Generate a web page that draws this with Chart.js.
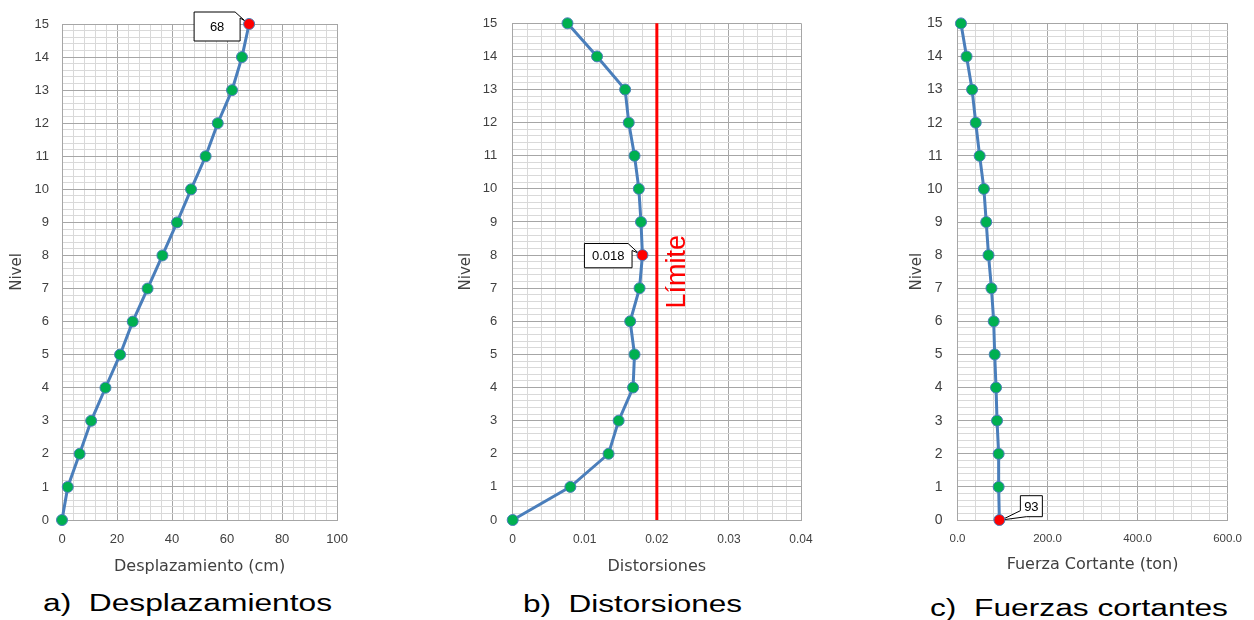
<!DOCTYPE html>
<html><head><meta charset="utf-8">
<script src="https://cdn.jsdelivr.net/npm/chart.js@4/dist/chart.umd.min.js"></script>
<style>
html,body{margin:0;padding:0;background:#fff;width:1254px;height:620px;overflow:hidden;position:relative}
canvas{position:absolute;top:0}
.cap{position:absolute;white-space:pre;font-family:"Liberation Sans",Arial,sans-serif;font-size:23px;line-height:23px;color:#000;transform-origin:0 50%}
</style></head><body>
<canvas id="ca" width="360" height="580" style="left:0px"></canvas>
<canvas id="cb" width="381" height="580" style="left:450px"></canvas>
<canvas id="cc" width="354" height="580" style="left:900px"></canvas>
<div class="cap" id="capa" style="left:43px;top:592px" data-w="289">a)  Desplazamientos</div>
<div class="cap" id="capb" style="left:523px;top:593px" data-w="219">b)  Distorsiones</div>
<div class="cap" id="capc" style="left:930px;top:597px" data-w="298">c)  Fuerzas cortantes</div>
<script>
// ---- data ----
const niveles = [0,1,2,3,4,5,6,7,8,9,10,11,12,13,14,15];
const desplazamientos = [0, 2.1, 6.4, 10.6, 15.8, 21.1, 25.7, 31.1, 36.5, 41.8, 46.9, 52.2, 56.6, 61.8, 65.4, 68];
const distorsiones = [0, 0.0080, 0.0133, 0.0147, 0.0167, 0.0169, 0.0163, 0.0176, 0.018, 0.0178, 0.0175, 0.0169, 0.0161, 0.0156, 0.0117, 0.0076];
const cortantes = [93, 91.4, 91.4, 87.8, 85.6, 82.6, 80.4, 75.4, 68.9, 63.8, 58.6, 49.2, 40.5, 32.4, 20.1, 7.7];
const limiteDistorsion = 0.02;
const nivelTicks = [0,1,2,3,4,5,6,7,8,9,10,11,12,13,14,15];
const xTicksA = [0, 20, 40, 60, 80, 100];
const xLabelsA = ['0', '20', '40', '60', '80', '100'];
const xTicksB = [0, 0.01, 0.02, 0.03, 0.04];
const xLabelsB = ['0', '0.01', '0.02', '0.03', '0.04'];
const xTicksC = [0, 200, 400, 600];
const xLabelsC = ['0.0', '200.0', '400.0', '600.0'];
const titulosX = ['Desplazamiento (cm)', 'Distorsiones', 'Fuerza Cortante (ton)'];
const tituloY = 'Nivel';
const etiquetaLimite = 'Límite';

// ---- styles ----
const MAJOR = '#a6a6a6', MINOR = '#d9d9d9';
const LINE = '#4a7ebb', GREEN = '#00b050', RED = '#ff0000';
const TXT = '#404040';

function isIn(v, arr){ return arr.findIndex(t => Math.abs(t - v) < 1e-9); }

function argmax(a){ let m=0; a.forEach((v,i)=>{ if(v>a[m]) m=i; }); return m; }

function makeChart(id, o){
  const pts = o.values.map((v,i)=>({x:v, y:niveles[i]}));
  const hi = argmax(o.values);
  const datasets = [{
    data: pts, showLine: true, borderColor: LINE, borderWidth: 3,
    pointRadius: 5.5, pointBorderWidth: 1, pointBorderColor: LINE,
    pointBackgroundColor: ctx => ctx.dataIndex === hi ? RED : GREEN,
    tension: 0, order: 1, clip: false
  }];
  if (o.limit !== undefined) {
    datasets.push({data:[{x:o.limit,y:niveles[0]},{x:o.limit,y:niveles[niveles.length-1]}],
      showLine:true, borderColor:RED, borderWidth:3, pointRadius:0, order:2, clip: false});
  }
  const calloutPlugin = {
    id: 'callout'+id,
    beforeDatasetsDraw(chart){
      const xs = chart.scales.x, ys = chart.scales.y, c = chart.ctx;
      const P = {x: xs.getPixelForValue(o.values[hi]), y: ys.getPixelForValue(niveles[hi])};
      const b = o.box(P);
      c.save();
      c.beginPath();
      b.path(c);
      c.closePath();
      c.fillStyle = '#fff'; c.fill();
      c.strokeStyle = '#000'; c.lineWidth = 1; c.stroke();
      c.fillStyle = '#000';
      c.font = '13px "Liberation Sans", Arial, sans-serif';
      c.textAlign = 'center'; c.textBaseline = 'middle';
      c.fillText(String(o.values[hi]), (b.x0+b.x1)/2, (b.y0+b.y1)/2+1);
      c.restore();
    },
    afterDatasetsDraw(chart){
      if (o.limit === undefined) return;
      const xs = chart.scales.x, ys = chart.scales.y, c = chart.ctx;
      c.save();
      c.translate(xs.getPixelForValue(o.limit) + 21, ys.getPixelForValue(7.5));
      c.rotate(-Math.PI/2);
      c.fillStyle = RED;
      c.font = '27px "Liberation Sans", Arial, sans-serif';
      c.textAlign = 'center'; c.textBaseline = 'middle';
      c.fillText(etiquetaLimite, 0, 0);
      c.restore();
    }
  };
  return new Chart(document.getElementById(id), {
    type: 'scatter',
    data: {datasets},
    plugins: [calloutPlugin],
    options: {
      responsive: false, animation: false, devicePixelRatio: 1, clip: false,
      layout: {padding: o.pad},
      plugins: {legend:{display:false}, tooltip:{enabled:false}},
      scales: {
        x: {
          type: 'linear', min: o.xmin, max: o.xmax,
          afterFit: s => { s.height = 60; },
          ticks: {stepSize: o.xstep, autoSkip: false, maxRotation: 0, minRotation: 0, padding: 12,
            color: TXT, font: {family: '"Liberation Sans", Arial, sans-serif', size: o.xfs},
            callback: v => { const i = isIn(v, o.xt); return i >= 0 ? o.xl[i] : ''; }},
          grid: {drawTicks: false, lineWidth: 1, color: ctx => (ctx.tick && isIn(ctx.tick.value, o.xt) >= 0) ? MAJOR : MINOR},
          border: {color: MAJOR},
          title: {display: true, text: o.xtitle, color: TXT, padding: {top:0, bottom: o.xtpad},
            font: {family: '"DejaVu Sans", sans-serif', size: 16}}
        },
        y: {
          type: 'linear', min: 0, max: 15,
          afterFit: s => { s.width = o.yw; },
          ticks: {stepSize: 0.2, autoSkip: false, padding: o.ytp, color: TXT,
            font: {family: '"Liberation Sans", Arial, sans-serif', size: o.yfs},
            callback: v => { const i = isIn(v, nivelTicks); return i >= 0 ? String(nivelTicks[i]) : ''; }},
          grid: {drawTicks: false, lineWidth: 1, color: ctx => (ctx.tick && isIn(ctx.tick.value, nivelTicks) >= 0) ? MAJOR : MINOR},
          border: {color: MAJOR},
          title: {display: true, text: tituloY, color: TXT, padding: {top: o.ytitlepad, bottom: 0},
            font: {family: '"DejaVu Sans", sans-serif', size: 15}}
        }
      }
    }
  });
}

makeChart('ca', {
  values: desplazamientos, xmin: 0, xmax: 100, xstep: 4, xt: xTicksA, xl: xLabelsA, xfs: 13,
  xtitle: titulosX[0], xtpad: 4, yw: 62, ytp: 13, yfs: 13, ytitlepad: 8.5,
  pad: {left: 0, right: 21, top: 24, bottom: 0},
  box: P => { const x0=P.x-55, x1=P.x-9, y0=P.y-12, y1=P.y+17;
    return {x0,x1,y0,y1, path(c){ c.moveTo(x0,y0); c.lineTo(x1-5,y0); c.lineTo(P.x-4,P.y-3); c.lineTo(x1,y0+6); c.lineTo(x1,y1); c.lineTo(x0,y1); }}; }
});
makeChart('cb', {
  values: distorsiones, limit: limiteDistorsion, xmin: 0, xmax: 0.04, xstep: 0.002, xt: xTicksB, xl: xLabelsB, xfs: 12,
  xtitle: titulosX[1], xtpad: 4, yw: 62.7, ytp: 15.5, yfs: 13, ytitlepad: 7,
  pad: {left: 0, right: 30, top: 20.7, bottom: 0},
  box: P => { const x0=P.x-58, x1=P.x-10.4, y0=P.y-11.6, y1=P.y+12.7;
    return {x0,x1,y0,y1, path(c){ c.moveTo(x0,y0); c.lineTo(x1-4,y0); c.lineTo(P.x-4,P.y-2); c.lineTo(x1,y0+7); c.lineTo(x1,y1); c.lineTo(x0,y1); }}; }
});
makeChart('cc', {
  values: cortantes, xmin: 0, xmax: 600, xstep: 40, xt: xTicksC, xl: xLabelsC, xfs: 11.5,
  xtitle: titulosX[2], xtpad: 6, yw: 57.5, ytp: 15, yfs: 14, ytitlepad: 7.7,
  pad: {left: 0, right: 21.3, top: 19, bottom: 0},
  box: P => { const x0=P.x+21, x1=P.x+43, y0=P.y-24.3, y1=P.y-3.3;
    return {x0,x1,y0,y1, path(c){ c.moveTo(x0,y0); c.lineTo(x1,y0); c.lineTo(x1,y1); c.lineTo(x0+6,y1); c.lineTo(P.x+2,P.y); c.lineTo(x0,y1-6); }}; }
});

// captions: stretch to reference widths
document.querySelectorAll('.cap').forEach(el => {
  const w = el.getBoundingClientRect().width;
  el.style.transform = 'scaleX(' + (parseFloat(el.dataset.w) / w) + ')';
});
</script>
</body></html>
